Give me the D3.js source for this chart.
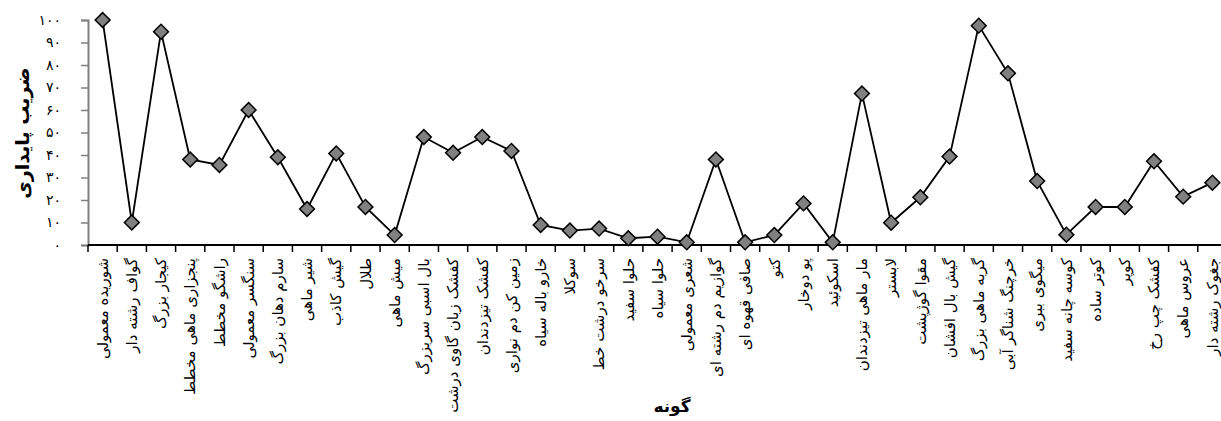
<!DOCTYPE html>
<html>
<head>
<meta charset="utf-8">
<script src="https://cdn.jsdelivr.net/npm/d3@7"></script>
<style>
  body { margin: 0; background: #fff; }
  svg { display: block; }
</style>
</head>
<body>
<svg id="chart"></svg>
<script>
// species names, left to right as in the chart
const species = [
  "شوریده معمولی", "گواف رشته دار", "کیجار بزرگ", "پنجزاری ماهی مخطط", "راشگو مخطط",
  "سنگسر معمولی", "سارم دهان بزرگ", "شیر ماهی", "گیش کاذب", "طلال",
  "میش ماهی", "بال اسبی سربزرگ", "کفشک زبان گاوی درشت", "کفشک تیزدندان", "زمین کن دم نواری",
  "خارو باله سیاه", "سوکلا", "سرخو درشت خط", "حلوا سفید", "حلوا سیاه",
  "شعری معمولی", "گوازیم دم رشته ای", "صافی قهوه ای", "کتو", "پو دوخار",
  "اسکوئید", "مار ماهی تیزدندان", "لابستر", "مقوا گوژپشت", "گیش بال افشان",
  "گربه ماهی بزرگ", "خرچنگ شناگر آبی", "میگوی ببری", "کوسه چانه سفید", "کوتر ساده",
  "کوپر", "کفشک چپ رخ", "عروس ماهی", "جغوک رشته دار"
];

// stability coefficient per species
const stability = [
  100, 10, 94.8, 38, 35.6,
  60, 39, 16, 40.7, 16.9,
  4.4, 48, 41, 48, 41.8,
  8.9, 6.4, 7.3, 3, 3.7,
  1.2, 38, 1.2, 4.4, 18.5,
  1.2, 67.3, 9.9, 21.2, 39.3,
  97.5, 76.3, 28.4, 4.6, 16.9,
  16.9, 37.2, 21.5, 27.7
];

const yTicks = [0, 10, 20, 30, 40, 50, 60, 70, 80, 90, 100];

const width = 1221, height = 421;
const svg = d3.select("#chart").attr("width", width).attr("height", height);

const x = d3.scaleBand().domain(species).range([88, 1227]);
const y = d3.scaleLinear().domain([0, 100]).range([245, 20]);

const faDigits = n => String(n).replace(/\d/g, d => "۰۱۲۳۴۵۶۷۸۹"[d]);

// y axis
const yAxis = svg.append("g")
  .attr("transform", "translate(88,0)")
  .call(d3.axisLeft(y).tickValues(yTicks).tickSize(7).tickPadding(20).tickFormat(faDigits));
yAxis.select(".domain").attr("stroke", "#808080").attr("stroke-width", 2);
yAxis.selectAll(".tick line").attr("stroke", "#808080").attr("stroke-width", 1.5);
yAxis.selectAll(".tick text")
  .style("font-family", "DejaVu Sans")
  .style("font-size", "14px")
  .style("letter-spacing", "2px")
  .attr("fill", "#000");

// x axis: ticks between categories
const bounds = species.map(s => x(s)).concat([x.range()[1]]);
const xAxisG = svg.append("g");
xAxisG.append("line")
  .attr("x1", 88).attr("x2", width)
  .attr("y1", 245).attr("y2", 245)
  .attr("stroke", "#000").attr("stroke-width", 2);
xAxisG.selectAll("line.tick")
  .data(bounds)
  .enter()
  .append("line")
  .attr("class", "tick")
  .attr("x1", d => d).attr("x2", d => d)
  .attr("y1", 245).attr("y2", 252)
  .attr("stroke", "#000").attr("stroke-width", 1.5);

// category labels, rotated
xAxisG.selectAll("text.lbl")
  .data(species)
  .enter()
  .append("text")
  .attr("class", "lbl")
  .attr("transform", d => `translate(${x(d) + x.bandwidth() / 2},258) rotate(-90)`)
  .attr("text-anchor", "end")
  .attr("dy", "0.35em")
  .style("font-family", "DejaVu Sans")
  .style("font-size", "15px")
  .text(d => d);

// line
const pts = species.map((s, i) => ({ s, v: stability[i] }));
const line = d3.line()
  .x(d => x(d.s) + x.bandwidth() / 2)
  .y(d => y(d.v));

svg.append("path")
  .datum(pts)
  .attr("fill", "none")
  .attr("stroke", "#000")
  .attr("stroke-width", 1.8)
  .attr("d", line);

// diamond markers
const diamond = d3.symbol(d3.symbolSquare, 110);
svg.selectAll("path.mk")
  .data(pts)
  .enter()
  .append("path")
  .attr("class", "mk")
  .attr("d", diamond)
  .attr("transform", d => `translate(${x(d.s) + x.bandwidth() / 2},${y(d.v)}) rotate(45)`)
  .attr("fill", "#808080")
  .attr("stroke", "#000")
  .attr("stroke-width", 1.5);

// axis titles
svg.append("text")
  .attr("transform", "translate(22,133) rotate(-90)")
  .attr("text-anchor", "middle")
  .attr("dy", "0.35em")
  .style("font-family", "DejaVu Sans")
  .style("font-size", "19px")
  .style("font-weight", "bold")
  .text("ضریب پایداری");

svg.append("text")
  .attr("x", 672)
  .attr("y", 412)
  .attr("text-anchor", "middle")
  .style("font-family", "DejaVu Sans")
  .style("font-size", "17px")
  .style("font-weight", "bold")
  .text("گونه");
</script>
</body>
</html>
